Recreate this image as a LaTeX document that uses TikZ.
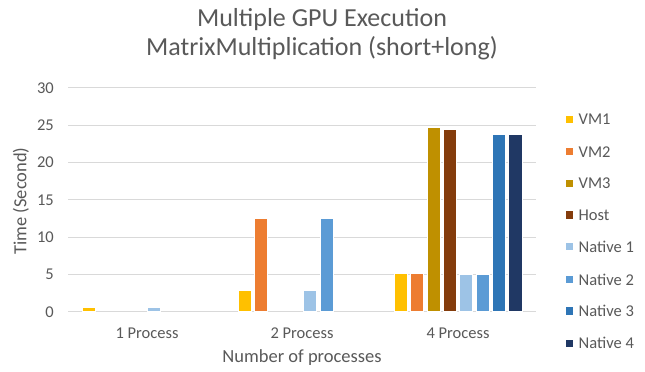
\documentclass[tikz,border=0pt]{standalone}
\usepackage{fontspec}
\setmainfont{Carlito}
\definecolor{txt}{HTML}{595959}
\definecolor{grid}{HTML}{D9D9D9}
\definecolor{cVMa}{HTML}{FFC000}
\definecolor{cVMb}{HTML}{ED7D31}
\definecolor{cVMc}{HTML}{BF9000}
\definecolor{cHost}{HTML}{843C0C}
\definecolor{cNa}{HTML}{9DC3E6}
\definecolor{cNb}{HTML}{5B9BD5}
\definecolor{cNc}{HTML}{2E75B6}
\definecolor{cNd}{HTML}{203864}
\tikzset{
  gridline/.style={draw=grid, line width=1pt},
  ticklabel/.style={anchor=east, text=txt, font=\fontsize{16.5}{18}\selectfont, inner sep=0pt},
  catlabel/.style={anchor=center, text=txt, font=\fontsize{16.5}{18}\selectfont, inner sep=0pt},
  axtitle/.style={text=txt, font=\fontsize{18.5}{20}\selectfont, inner sep=0pt},
  charttitle/.style={text=txt, font=\fontsize{26}{30}\selectfont, inner sep=0pt, anchor=base},
  legtext/.style={anchor=west, text=txt, font=\fontsize{16.5}{18}\selectfont, inner sep=0pt},
  barbox/.style={draw=white, line width=0.6pt},
}
\begin{document}
\begin{tikzpicture}[x=1pt,y=-1pt]
\useasboundingbox (0,0) rectangle (645,372);
\fill[white] (0,0) rectangle (645,372);
\def\ybase{311.7}
\def\ys{7.457}
% title
\node[charttitle] (t1) at (322,26) {Multiple GPU Execution};
\node[charttitle] (t2) at (322,55) {MatrixMultiplication (short+long)};
% grid
\foreach \k in {0,...,6}{
  \draw[gridline] (68,{\ybase-37.29*\k}) -- (536,{\ybase-37.29*\k});
  \pgfmathtruncatemacro\lab{5*\k}
  \node[ticklabel] (tick\k) at (54,{\ybase-37.29*\k}) {\lab};
}
% bars: group/series/value/colour
\foreach \g/\i/\v/\c in {
  0/0/0.55/cVMa, 0/4/0.55/cNa,
  1/0/2.9/cVMa, 1/1/12.5/cVMb, 1/4/2.9/cNa, 1/5/12.5/cNb,
  2/0/5.2/cVMa, 2/1/5.2/cVMb, 2/2/24.7/cVMc, 2/3/24.5/cHost,
  2/4/5.0/cNa, 2/5/5.0/cNb, 2/6/23.8/cNc, 2/7/23.8/cNd}{
  \fill[\c, barbox] ({146+156*\g+(\i-3.5)*16.35-6.6},\ybase) rectangle ++(13.2,{-\v*\ys});
}
% category labels
\node[catlabel] (c1) at (147,333) {1 Process};
\node[catlabel] (c2) at (302,333) {2 Process};
\node[catlabel] (c3) at (458,333) {4 Process};
% axis titles
\node[axtitle] (xt) at (302,358) {Number of processes};
\node[axtitle, rotate=90] (yt) at (21,201) {Time (Second)};
% legend
\foreach \n/\c/\t/\y in {la/cVMa/VM1/119.3, lb/cVMb/VM2/151.7, lc/cVMc/VM3/183.3,
  ld/cHost/Host/215, le/cNa/Native 1/246.7, lf/cNb/Native 2/279.5,
  lg/cNc/Native 3/311, lh/cNd/Native 4/343.3}{
  \fill[\c] (566,{\y-3.6}) rectangle ++(7.2,7.2);
  \node[legtext] (\n) at (578.5,\y) {\t};
}
\end{tikzpicture}
\end{document}
